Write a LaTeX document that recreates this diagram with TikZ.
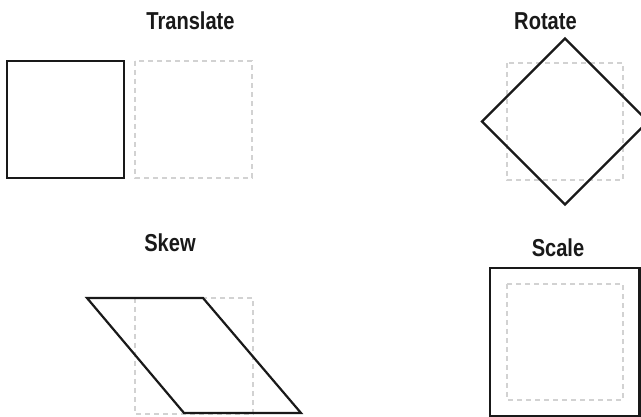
\documentclass[tikz,border=0pt]{standalone}
\usepackage{fontspec}
\newfontfamily\titlefont{Liberation Sans Bold}[FakeStretch=0.82]
\definecolor{ghost}{HTML}{D2D2D2}
\tikzset{
  solidshape/.style={draw=black!90, line width=2.2pt, line join=miter},
  ghostshape/.style={draw=ghost, line width=1.6pt, dash pattern=on 5pt off 4pt},
  title/.style={font=\titlefont\fontsize{24.5}{28}\selectfont, text=black!90, anchor=base, inner sep=0pt}
}
\begin{document}
\begin{tikzpicture}[x=1pt,y=-1pt]
\useasboundingbox (0,0) rectangle (641,417);
% Translate
\node[title] (ttranslate) at (190.5,29.3) {Translate};
\draw[ghostshape] (135,61) rectangle (252,178);
\draw[solidshape] (7,61) rectangle (124,178);
% Rotate
\node[title] (trotate) at (545.5,29.3) {Rotate};
\draw[ghostshape] (507,63) rectangle (623,180);
\draw[solidshape] (565,38.5) -- (648,121.5) -- (565,204.5) -- (482,121.5) -- cycle;
% Skew
\node[title] (tskew) at (170,252) {Skew};
\draw[ghostshape] (135,298) rectangle (253,414);
\draw[solidshape] (87,298) -- (203,298) -- (301,413) -- (184,413) -- cycle;
% Scale
\node[title] (tscale) at (558,256.7) {Scale};
\draw[ghostshape] (507,284) rectangle (623,400);
\draw[solidshape] (490,268) rectangle (639.5,416);
\end{tikzpicture}
\end{document}
